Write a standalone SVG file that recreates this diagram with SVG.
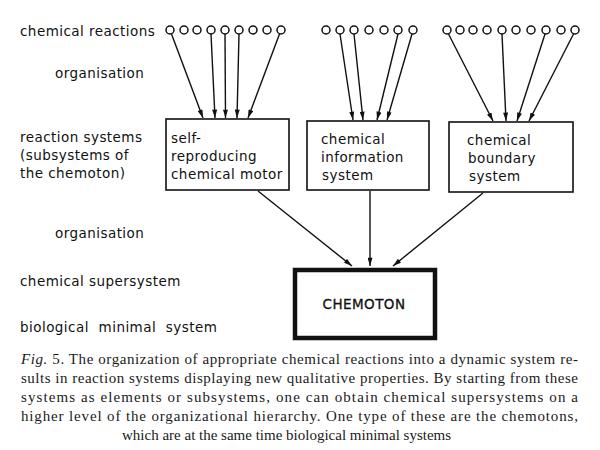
<svg xmlns="http://www.w3.org/2000/svg" width="600" height="450" viewBox="0 0 600 450">
<defs>
<marker id="ah" viewBox="0 0 10 6" refX="10" refY="3" markerWidth="9" markerHeight="5" markerUnits="userSpaceOnUse" orient="auto">
<path d="M0,0 L10,3 L0,6 Z" fill="#111"/>
</marker>
<style>
.lbl{font-family:"DejaVu Sans","Liberation Sans",sans-serif;font-size:13.5px;fill:#111;letter-spacing:0.45px}
.box{fill:#fff;stroke:#111;stroke-width:1.6}
.big{fill:#fff;stroke:#111;stroke-width:4.5}
.src{fill:#fff;stroke:#111;stroke-width:1.5}
.con line{stroke:#111;stroke-width:1.4;marker-end:url(#ah)}
.cap{font-family:"Liberation Serif","Times New Roman",serif;font-size:15px;fill:#1a1a1a}
</style>
</defs>
<rect width="600" height="450" fill="#fff"/>

<g id="levels">
<text class="lbl" x="20" y="36" letter-spacing="0.2">chemical reactions</text>
<text class="lbl" x="55" y="78">organisation</text>
<text class="lbl" x="20" y="142">reaction systems</text>
<text class="lbl" x="20" y="160">(subsystems of</text>
<text class="lbl" x="20" y="178">the chemoton)</text>
<text class="lbl" x="55" y="238">organisation</text>
<text class="lbl" x="20" y="286" letter-spacing="0.7">chemical supersystem</text>
<text class="lbl" x="20" y="332" letter-spacing="1.1" word-spacing="5">biological minimal system</text>
</g>

<g id="reactions1">
<circle class="src" cx="170" cy="30" r="4"/><circle class="src" cx="184" cy="30" r="4"/><circle class="src" cx="197" cy="30" r="4"/>
<circle class="src" cx="211" cy="30" r="4"/><circle class="src" cx="225" cy="30" r="4"/><circle class="src" cx="239" cy="30" r="4"/>
<circle class="src" cx="253" cy="30" r="4"/><circle class="src" cx="267" cy="30" r="4"/><circle class="src" cx="281" cy="30" r="4"/>
</g>
<g id="reactions2">
<circle class="src" cx="326" cy="30" r="4"/><circle class="src" cx="340" cy="30" r="4"/><circle class="src" cx="354" cy="30" r="4"/>
<circle class="src" cx="369" cy="30" r="4"/><circle class="src" cx="384" cy="30" r="4"/><circle class="src" cx="398" cy="30" r="4"/>
<circle class="src" cx="413" cy="30" r="4"/>
</g>
<g id="reactions3">
<circle class="src" cx="447" cy="30" r="4"/><circle class="src" cx="460" cy="30" r="4"/><circle class="src" cx="473" cy="30" r="4"/>
<circle class="src" cx="487" cy="30" r="4"/><circle class="src" cx="502" cy="30" r="4"/><circle class="src" cx="516" cy="30" r="4"/>
<circle class="src" cx="531" cy="30" r="4"/><circle class="src" cx="546" cy="30" r="4"/><circle class="src" cx="561" cy="30" r="4"/>
<circle class="src" cx="575" cy="30" r="4"/>
</g>

<g id="connectors" class="con">
<line x1="171.5" y1="34" x2="203" y2="118"/>
<line x1="211" y1="34" x2="215" y2="118"/>
<line x1="225" y1="34" x2="225.5" y2="118"/>
<line x1="239" y1="34" x2="237" y2="118"/>
<line x1="279.5" y1="34" x2="248" y2="118"/>
<line x1="340" y1="34" x2="353" y2="120"/>
<line x1="354" y1="34" x2="363" y2="120"/>
<line x1="398" y1="34" x2="377" y2="120"/>
<line x1="412" y1="34" x2="387" y2="120"/>
<line x1="448.5" y1="34" x2="493" y2="121"/>
<line x1="502" y1="34" x2="506" y2="121"/>
<line x1="545" y1="34" x2="517" y2="121"/>
<line x1="573.5" y1="34" x2="529" y2="121"/>
<line x1="258" y1="191" x2="352" y2="266"/>
<line x1="370" y1="191" x2="370" y2="266"/>
<line x1="483" y1="193" x2="393" y2="266"/>
</g>

<g id="motor">
<rect class="box" x="166" y="119" width="123" height="71"/>
<text class="lbl" x="171" y="143">self-</text>
<text class="lbl" x="171" y="161">reproducing</text>
<text class="lbl" x="171" y="179">chemical motor</text>
</g>
<g id="information">
<rect class="box" x="307" y="121" width="122" height="69"/>
<text class="lbl" x="321" y="144">chemical</text>
<text class="lbl" x="321" y="162">information</text>
<text class="lbl" x="322" y="180">system</text>
</g>
<g id="boundary">
<rect class="box" x="449" y="122" width="124" height="70"/>
<text class="lbl" x="467" y="145">chemical</text>
<text class="lbl" x="468" y="163">boundary</text>
<text class="lbl" x="469" y="181">system</text>
</g>
<g id="chemoton">
<rect class="big" x="295" y="270" width="140" height="68"/>
<text class="lbl" x="364" y="309" text-anchor="middle" font-size="13.5" letter-spacing="0.2" stroke="#111" stroke-width="0.3">CHEMOTON</text>
</g>

<g id="caption">
<text class="cap" x="21" y="364" textLength="557" lengthAdjust="spacing"><tspan font-style="italic">Fig.</tspan> 5. The organization of appropriate chemical reactions into a dynamic system re-</text>
<text class="cap" x="21" y="383" textLength="557" lengthAdjust="spacing">sults in reaction systems displaying new qualitative properties. By starting from these</text>
<text class="cap" x="21" y="402" textLength="557" lengthAdjust="spacing">systems as elements or subsystems, one can obtain chemical supersystems on a</text>
<text class="cap" x="21" y="421" textLength="557" lengthAdjust="spacing">higher level of the organizational hierarchy. One type of these are the chemotons,</text>
<text class="cap" x="122" y="440">which are at the same time biological minimal systems</text>
</g>
</svg>
